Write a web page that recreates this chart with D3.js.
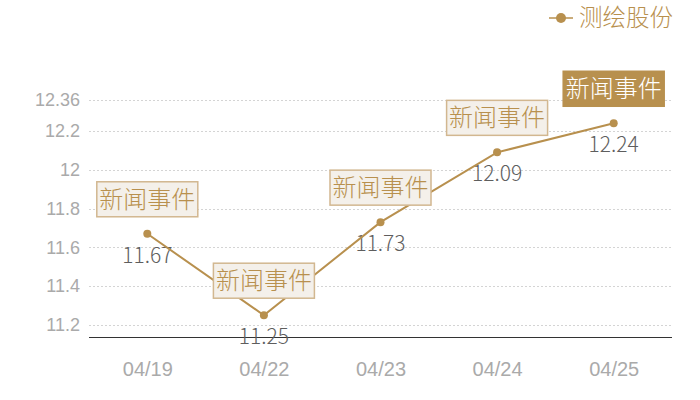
<!DOCTYPE html>
<html lang="zh">
<head>
<meta charset="UTF-8">
<title>测绘股份</title>
<style>
  body { margin:0; background:#fff; }
  #CHART { display:block; font-family:"Noto Sans CJK SC","Noto Sans",sans-serif; font-weight:300; }
</style>
</head>
<body>
<svg id="CHART" width="700" height="400"></svg>
<script src="https://cdnjs.cloudflare.com/ajax/libs/d3/7.8.5/d3.min.js"></script>
<script>
// data
var seriesName = "测绘股份";
var dates = ["04/19", "04/22", "04/23", "04/24", "04/25"];
var prices = [11.67, 11.25, 11.73, 12.09, 12.24];
var events = ["新闻事件", "新闻事件", "新闻事件", "新闻事件", "新闻事件"];
var yTicks = [11.2, 11.4, 11.6, 11.8, 12, 12.2, 12.36];

var gold = "#b8904e";
var width = 700, height = 400;
var margin = { left: 89, right: 28, top: 100, bottom: 62.5 };

var svg = d3.select("#CHART");

var x = d3.scalePoint()
    .domain(dates)
    .range([margin.left, width - margin.right])
    .padding(0.5);

var y = d3.scaleLinear()
    .domain([11.135, 12.36])
    .range([height - margin.bottom, margin.top]);

// grid
svg.append("g")
  .selectAll("line")
  .data(yTicks)
  .join("line")
    .attr("x1", margin.left)
    .attr("x2", width - margin.right)
    .attr("y1", function(d){ return Math.round(y(d)) + 0.5; })
    .attr("y2", function(d){ return Math.round(y(d)) + 0.5; })
    .attr("stroke", "#d4d4d4")
    .attr("stroke-dasharray", "2,2");

// y axis labels
var yAxis = svg.append("g")
    .attr("transform", "translate(" + margin.left + ",0)")
    .call(d3.axisLeft(y).tickValues(yTicks).tickSize(0).tickPadding(9)
      .tickFormat(function(d){ return d3.format("")(d); }));
yAxis.select(".domain").remove();
yAxis.selectAll("text")
    .attr("fill", "#aaa")
    .style("font-size", "18px")
    .style("font-family", "inherit");

// x axis
var xAxis = svg.append("g")
    .attr("transform", "translate(0," + (height - margin.bottom) + ")")
    .call(d3.axisBottom(x).tickSize(0).tickPadding(24));
xAxis.select(".domain")
    .attr("stroke", "#333")
    .attr("d", "M" + margin.left + ",0H" + (width - margin.right));
xAxis.selectAll("text")
    .attr("fill", "#aaa")
    .style("font-size", "20px")
    .style("font-family", "inherit");

var points = dates.map(function(d, i){ return { date: d, value: prices[i], ev: events[i], i: i }; });

// value labels (under the line)
svg.append("g")
  .selectAll("text")
  .data(points)
  .join("text")
    .attr("x", function(d){ return x(d.date); })
    .attr("y", function(d){ return y(d.value) + 29; })
    .attr("text-anchor", "middle")
    .attr("fill", "#5e5e5e")
    .style("font-size", "21px")
    .text(function(d){ return d3.format(".2f")(d.value); });

// line
var line = d3.line()
    .x(function(d){ return x(d.date); })
    .y(function(d){ return y(d.value); });

svg.append("path")
    .datum(points)
    .attr("d", line)
    .attr("fill", "none")
    .attr("stroke", gold)
    .attr("stroke-width", 2);

svg.append("g")
  .selectAll("circle")
  .data(points)
  .join("circle")
    .attr("cx", function(d){ return x(d.date); })
    .attr("cy", function(d){ return y(d.value); })
    .attr("r", 4)
    .attr("fill", gold);

// event boxes
var boxW = 101, boxH = 35, gap = 17;
var ev = svg.append("g")
  .selectAll("g")
  .data(points)
  .join("g")
    .attr("transform", function(d){
      return "translate(" + x(d.date) + "," + (y(d.value) - gap - boxH / 2) + ")";
    });

ev.append("rect")
    .attr("x", -boxW / 2)
    .attr("y", -boxH / 2)
    .attr("width", boxW)
    .attr("height", boxH)
    .attr("fill", function(d){ return d.i == points.length - 1 ? gold : "#f4f0ea"; })
    .attr("stroke", function(d){ return d.i == points.length - 1 ? gold : "#d2b790"; })
    .attr("stroke-width", 1.5);

ev.append("text")
    .attr("text-anchor", "middle")
    .attr("dy", "0.36em")
    .attr("fill", function(d){ return d.i == points.length - 1 ? "#fff" : gold; })
    .style("font-size", "24px")
    .text(function(d){ return d.ev; });

// legend
var lg = svg.append("g").attr("transform", "translate(549,18)");
lg.append("line").attr("x1", 0).attr("x2", 24).attr("stroke", gold).attr("stroke-width", 1.5);
lg.append("circle").attr("cx", 12).attr("r", 5).attr("fill", gold);
lg.append("text")
    .attr("x", 30)
    .attr("dy", "0.36em")
    .attr("fill", gold)
    .style("font-size", "23.5px")
    .text(seriesName);
</script>
</body>
</html>
